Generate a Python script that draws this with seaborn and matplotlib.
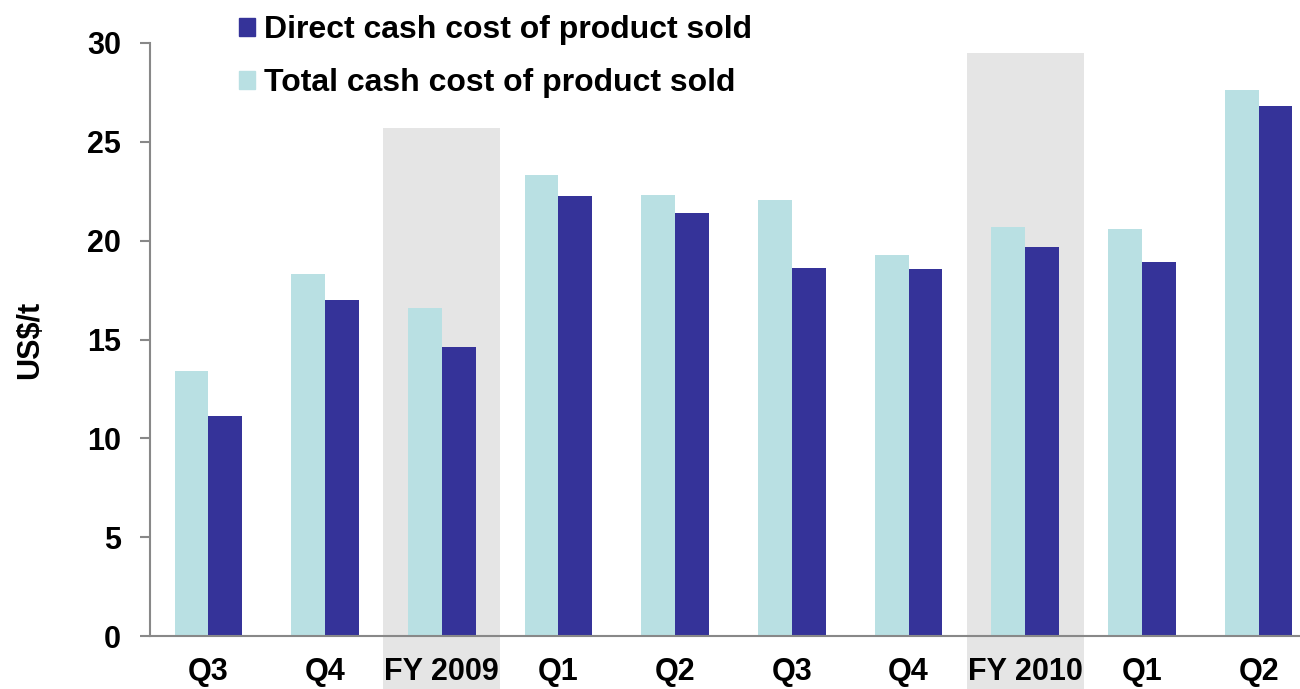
import numpy as np
import pandas as pd
import seaborn as sns
import matplotlib.pyplot as plt
from matplotlib.patches import Patch

periods = ["Q3 FY09", "Q4 FY09", "FY 2009", "Q1 FY10", "Q2 FY10",
           "Q3 FY10", "Q4 FY10", "FY 2010", "Q1 FY11", "Q2 FY11"]
tick_labels = ["Q3", "Q4", "FY 2009", "Q1", "Q2", "Q3", "Q4", "FY 2010", "Q1", "Q2"]
total_cost = [13.4, 18.3, 16.6, 23.3, 22.3, 22.05, 19.25, 20.7, 20.6, 27.6]
direct_cost = [11.15, 17.0, 14.6, 22.25, 21.4, 18.6, 18.55, 19.7, 18.9, 26.8]
highlight = ["FY 2009", "FY 2010"]
highlight_tops = [25.7, 29.5]

TOTAL = "Total cash cost of product sold"
DIRECT = "Direct cash cost of product sold"

df = pd.DataFrame({
    "period": periods * 2,
    "cost": total_cost + direct_cost,
    "series": [TOTAL] * len(periods) + [DIRECT] * len(periods),
})

sns.set_style("white")
plt.rcParams["font.family"] = ["Liberation Sans", "DejaVu Sans"]
plt.rcParams["font.weight"] = "bold"
plt.rcParams["text.color"] = "black"
plt.rcParams["xtick.color"] = "black"
plt.rcParams["ytick.color"] = "black"
plt.rcParams["axes.labelcolor"] = "black"

FS = 22

fig = plt.figure(figsize=(13, 6.89), dpi=100)
ax = fig.add_axes([150 / 1300, 53 / 689, 1167 / 1300, 593 / 689])

colors = {TOTAL: "#b9e0e3", DIRECT: "#353399"}

# grey boxes behind the full-year columns, running down over the labels
for name, top in zip(highlight, highlight_tops):
    i = periods.index(name)
    ax.bar(i, top + 2.7, bottom=-2.7, width=1.0, color="#e5e5e5",
           zorder=0, clip_on=False, linewidth=0)

sns.barplot(data=df, x="period", y="cost", hue="series", order=periods,
            hue_order=[TOTAL, DIRECT], palette=colors, width=0.58,
            saturation=1, ax=ax, legend=False, zorder=2, linewidth=0)

ax.set_xlim(-0.5, len(periods) - 0.5)
ax.set_ylim(0, 30)
ax.set_yticks(range(0, 31, 5))
ax.set_xticks(range(len(periods)))
ax.set_xticklabels(tick_labels)
ax.set_xticks(np.arange(-0.5, len(periods), 1.0), minor=True)
ax.tick_params(axis="x", which="major", length=0, pad=15, labelsize=FS)
ax.tick_params(axis="x", which="minor", length=7, width=1.5, color="#888888", direction="out")
ax.tick_params(axis="y", length=7, width=1.5, color="#888888", pad=14, labelsize=FS,
               left=True, labelcolor="black")
for lbl in ax.get_xticklabels() + ax.get_yticklabels():
    lbl.set_fontweight("bold")

ax.set_xlabel("")
ax.set_ylabel("US$/t", fontsize=FS, fontweight="bold", labelpad=30)
for side in ["top", "right"]:
    ax.spines[side].set_visible(False)
for side in ["left", "bottom"]:
    ax.spines[side].set_color("#888888")
    ax.spines[side].set_linewidth(1.5)

handles = [Patch(color=colors[DIRECT], label=DIRECT), Patch(color=colors[TOTAL], label=TOTAL)]
fig.legend(handles=handles, loc="upper left", bbox_to_anchor=(210 / 1300, 1.02),
           frameon=False, handlelength=0.5, handleheight=0.5,
           handletextpad=0.3, labelspacing=0.72, prop={"weight": "bold", "size": 23})

fig.savefig("out.png", dpi=100)
